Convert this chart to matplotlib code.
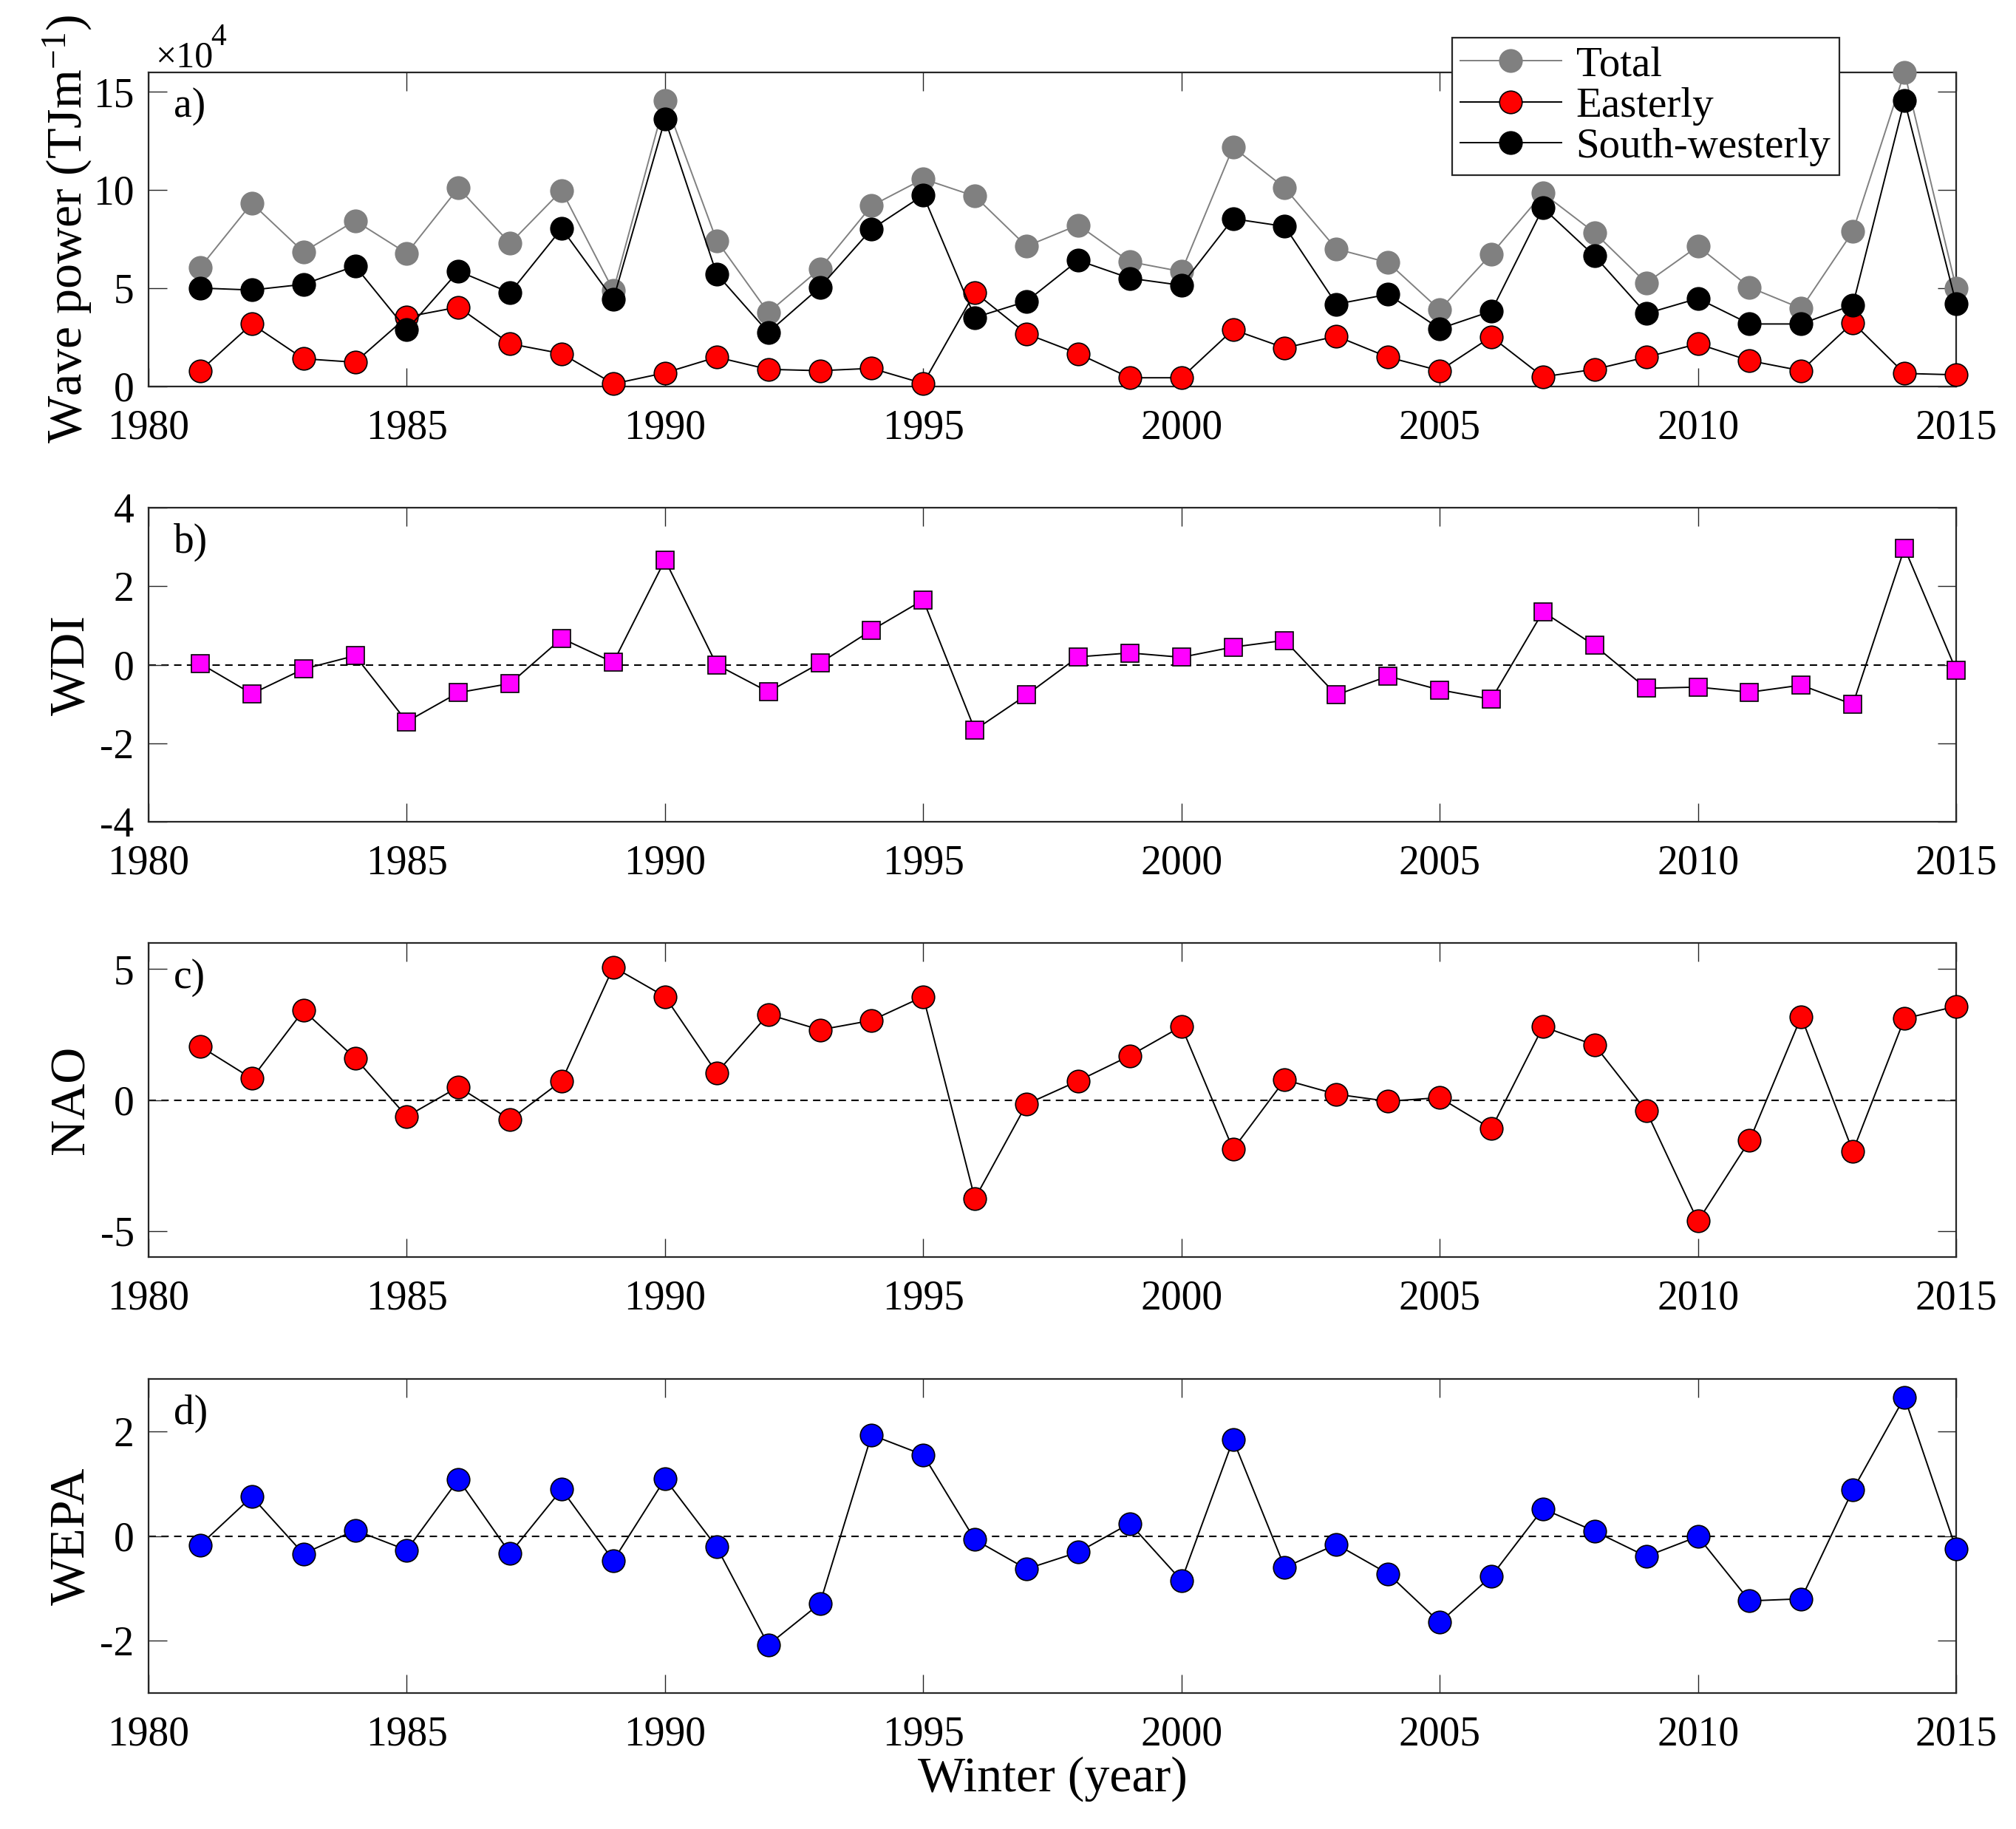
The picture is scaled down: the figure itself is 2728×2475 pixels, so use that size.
import numpy as np
import matplotlib
matplotlib.use("Agg")
import matplotlib.pyplot as plt

plt.rcParams['font.family'] = ['Liberation Serif', 'DejaVu Serif']
plt.rcParams['mathtext.fontset'] = 'custom'
plt.rcParams['mathtext.rm'] = 'Liberation Serif'
plt.rcParams['mathtext.it'] = 'Liberation Serif:italic'
plt.rcParams['axes.unicode_minus'] = False

# ---------------- data ----------------
years = list(range(1981, 2016))
power_scale_exp = 4  # values below are in units of 10^4 TJ/m

total = [6.05, 9.32, 6.84, 8.43, 6.77, 10.1, 7.28, 9.97, 4.87, 14.55, 7.42, 3.75, 5.98, 9.19,
         10.56, 9.68, 7.13, 8.21, 6.34, 5.84, 12.18, 10.1, 6.99, 6.3, 3.89, 6.73, 9.83, 7.82,
         5.26, 7.13, 5.04, 3.96, 7.88, 15.99, 5.0]
easterly = [0.79, 3.17, 1.4, 1.22, 3.53, 4.03, 2.16, 1.66, 0.12, 0.68, 1.48, 0.86, 0.79, 0.91,
            0.14, 4.78, 2.67, 1.66, 0.43, 0.43, 2.88, 1.95, 2.55, 1.48, 0.79, 2.52, 0.48, 0.86,
            1.48, 2.16, 1.3, 0.79, 3.24, 0.65, 0.58]
south_westerly = [5.0, 4.9, 5.19, 6.12, 2.88, 5.86, 4.76, 8.03, 4.42, 13.6, 5.72, 2.74, 5.04, 8.0,
                  9.73, 3.5, 4.32, 6.41, 5.5, 5.14, 8.53, 8.14, 4.18, 4.68, 2.93, 3.82, 9.08, 6.63,
                  3.7, 4.47, 3.17, 3.17, 4.14, 14.55, 4.21]
wdi = [0.03, -0.74, -0.11, 0.23, -1.45, -0.71, -0.48, 0.67, 0.06, 2.67, 0.0, -0.69, 0.04, 0.88,
       1.65, -1.66, -0.77, 0.2, 0.3, 0.19, 0.45, 0.62, -0.77, -0.29, -0.64, -0.88, 1.35, 0.49,
       -0.6, -0.57, -0.7, -0.52, -1.01, 2.97, -0.14]
nao = [2.05, 0.82, 3.42, 1.6, -0.63, 0.5, -0.75, 0.73, 5.08, 3.95, 1.04, 3.27, 2.68, 3.04,
       3.95, -3.77, -0.16, 0.73, 1.69, 2.81, -1.88, 0.77, 0.22, -0.05, 0.09, -1.1, 2.8, 2.1,
       -0.42, -4.63, -1.55, 3.18, -1.96, 3.11, 3.58]
wepa = [-0.17, 0.75, -0.34, 0.11, -0.27, 1.08, -0.33, 0.89, -0.47, 1.09, -0.21, -2.08, -1.29, 1.93,
        1.55, -0.07, -0.63, -0.31, 0.24, -0.85, 1.84, -0.6, -0.16, -0.72, -1.65, -0.77, 0.52, 0.09,
        -0.39, -0.01, -1.24, -1.2, 0.88, 2.65, -0.25]

xticks = [1980, 1985, 1990, 1995, 2000, 2005, 2010, 2015]
panel_labels = ['a)', 'b)', 'c)', 'd)']
ylabels = ['Wave power (TJm$^{-1}$)', 'WDI', 'NAO', 'WEPA']
yticks_list = [[0, 5, 10, 15], [-4, -2, 0, 2, 4], [-5, 0, 5], [-2, 0, 2]]
ylims = [(0, 16), (-4, 4), (-6, 6), (-3, 3)]
legend_labels = ['Total', 'Easterly', 'South-westerly']

# ---------------- figure ----------------
W, H = 2728, 2475
fig = plt.figure(figsize=(W / 100, H / 100), dpi=100)

left = 201 / W
width = (2647 - 201) / W
tops = [97.6, 687, 1276, 1866]
ax_h = 425
axes = []
for t in tops:
    b = 1 - (t + ax_h) / H
    axes.append(fig.add_axes([left, b, width, ax_h / H]))

TICK_FS = 40
LABEL_FS = 49
AX_COL = '#262626'
lw = 1.4
ms = 22
mew = 1.2

for i, ax in enumerate(axes):
    ax.set_xlim(1980, 2015)
    ax.set_ylim(*ylims[i])
    ax.set_xticks(xticks)
    ax.set_yticks(yticks_list[i])
    ax.tick_params(axis='both', which='major', direction='in', length=18, width=1.0,
                   top=True, right=True, labelsize=TICK_FS, colors=AX_COL, labelcolor='black')
    ax.tick_params(axis='x', pad=22)
    ax.tick_params(axis='y', pad=14)
    for sp in ax.spines.values():
        sp.set_linewidth(1.6)
        sp.set_color(AX_COL)
    ax.set_ylabel(ylabels[i], fontsize=LABEL_FS)
    ax.yaxis.set_label_coords(-0.030, 0.5)
    ax.text(0.014, 0.89, panel_labels[i], transform=ax.transAxes, fontsize=TICK_FS,
            ha='left', va='center')
    if i > 0:
        ax.axhline(0, color='black', lw=1.5, linestyle=(0, (4.8, 3.5)), zorder=1)

# panel a
ax = axes[0]
h1, = ax.plot(years, total, '-o', color='#808080', mfc='#808080', mec='#808080',
              lw=lw, ms=ms, mew=mew, clip_on=False, zorder=3)
h2, = ax.plot(years, easterly, '-o', color='black', mfc='red', mec='black',
              lw=lw, ms=ms, mew=mew, clip_on=False, zorder=4)
h3, = ax.plot(years, south_westerly, '-o', color='black', mfc='black', mec='black',
              lw=lw, ms=ms, mew=mew, clip_on=False, zorder=5)
ax.text(0.0037, 1.016, '×10', transform=ax.transAxes, fontsize=36,
        ha='left', va='baseline')
ax.text(0.0345, 1.085, str(power_scale_exp), transform=ax.transAxes, fontsize=30,
        ha='left', va='baseline')
leg = fig.legend([h1, h2, h3], legend_labels, loc='upper right',
                 bbox_to_anchor=(2489 / W, 1 - 51 / H), bbox_transform=fig.transFigure,
                 fontsize=41, frameon=True, fancybox=False, framealpha=1,
                 edgecolor=AX_COL, borderaxespad=0, borderpad=0.2, labelspacing=0.06,
                 handlelength=2.4, handletextpad=0.35)
leg.get_frame().set_linewidth(1.6)

# panel b
axes[1].plot(years, wdi, '-s', color='black', mfc='magenta', mec='black',
             lw=lw, ms=17, mew=mew, clip_on=False, zorder=3)
# panel c
axes[2].plot(years, nao, '-o', color='black', mfc='red', mec='black',
             lw=lw, ms=ms, mew=mew, clip_on=False, zorder=3)
# panel d
axes[3].plot(years, wepa, '-o', color='black', mfc='blue', mec='black',
             lw=lw, ms=ms, mew=mew, clip_on=False, zorder=3)
axes[3].set_xlabel('Winter (year)', fontsize=LABEL_FS, labelpad=2)

fig.savefig('out.png', dpi=100)
